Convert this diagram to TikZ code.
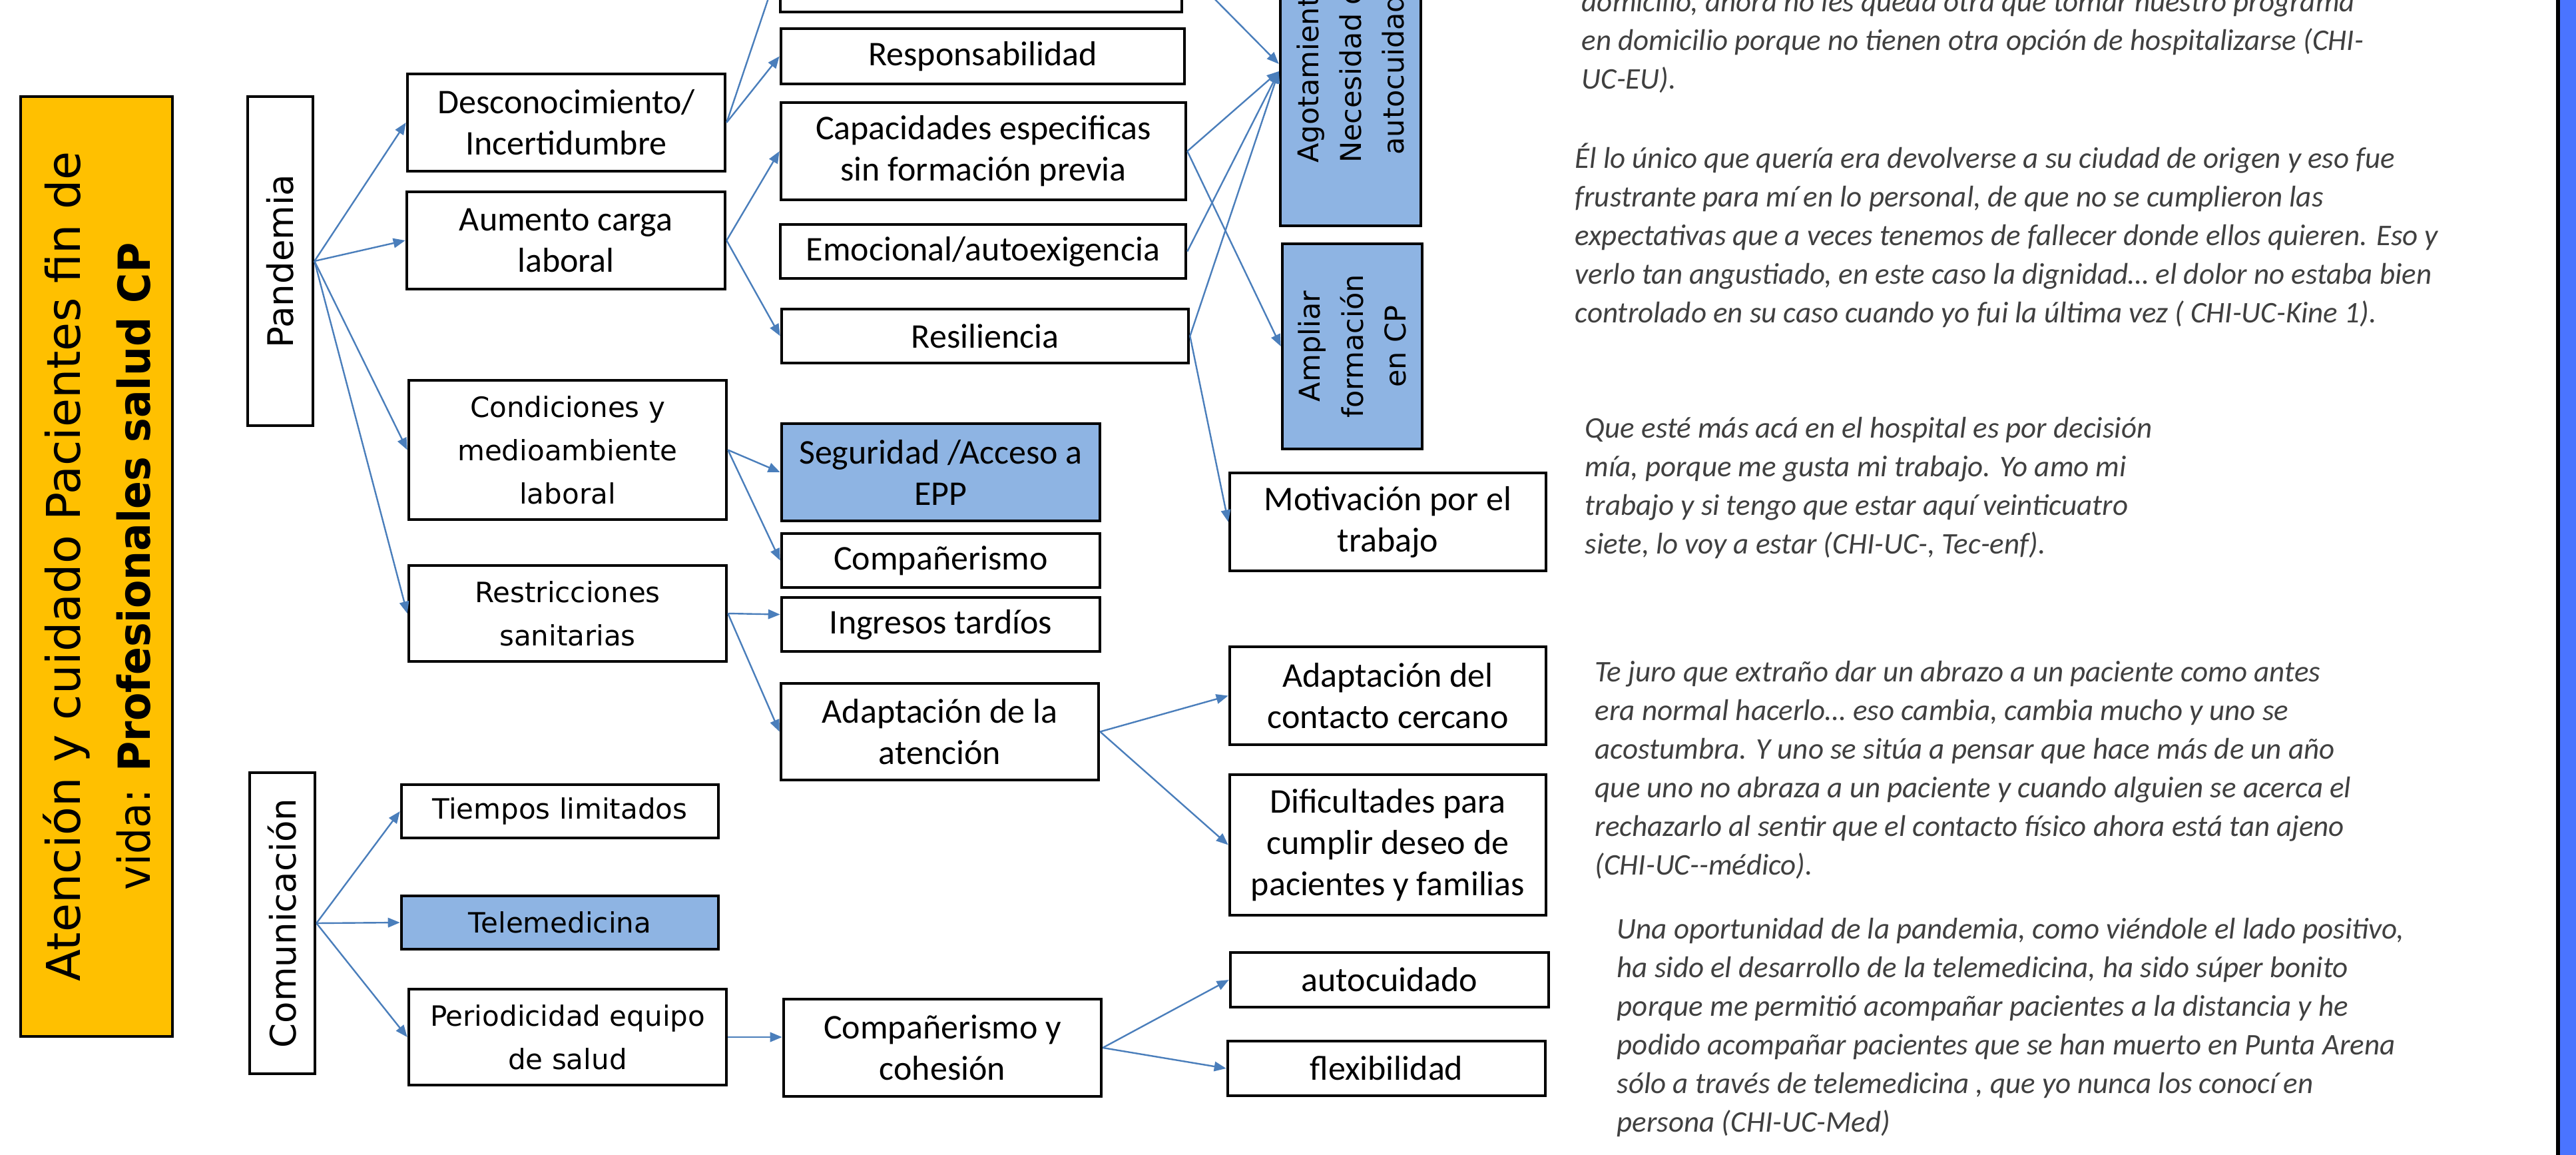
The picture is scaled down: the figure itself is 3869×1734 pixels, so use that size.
\documentclass[tikz,border=0pt]{standalone}
\usepackage{fontspec}
\setmainfont{Carlito}
\newfontfamily\verf{DejaVu Sans}
\usetikzlibrary{arrows.meta,calc}
\definecolor{titleorange}{HTML}{FFC000}
\definecolor{boxblue}{HTML}{8EB4E3}
\definecolor{arrowblue}{HTML}{4A7EBB}
\definecolor{quotegray}{HTML}{404040}
\definecolor{edgeblue}{HTML}{4A74FF}
\begin{document}
\begin{tikzpicture}[x=0.25pt,y=-0.25pt,
  bx/.style={draw=black, line width=1.15pt, fill=white, inner sep=0pt, align=center, text=black},
  calb/.style={font=\fontsize{13}{15.5}\selectfont},
  verb/.style={font=\verf\fontsize{10.5}{16.25}\selectfont},
  filled/.style={fill=boxblue},
  conn/.style={draw=arrowblue, line width=0.6pt, -{Triangle[length=4.5pt,width=3.6pt]}},
  quote/.style={anchor=north west, inner sep=0pt, align=left, text=quotegray, font=\itshape\fontsize{11.25}{14.5}\selectfont},
  rot/.style={rotate=90, inner sep=0pt, align=center, text=black},
]
\useasboundingbox (0,0) rectangle (3869,1734);
\clip (0,0) rectangle (3869,1734);
\fill[white] (0,0) rectangle (3869,1734);

% right edge band
\fill[black] (3839,0) rectangle (3845,1734);
\fill[edgeblue] (3845,0) rectangle (3869,1734);

% title
\node[bx, fill=titleorange, minimum width=57pt, minimum height=352.75pt] (title) at (145,850.5) {};
\node[rot, font=\verf\fontsize{17.5}{26.25}\selectfont] (titletext) at (title.center) {Atención y cuidado Pacientes fin de\\\scalebox{0.93}[1]{\fontsize{16.6}{26.25}\selectfont vida: \textbf{Profesionales salud CP}}};

% category boxes
\node[bx, minimum width=24.5pt, minimum height=123.5pt] (pand) at (421,392) {};
\node[rot, font=\verf\fontsize{13.25}{16}\selectfont] (pandtext) at (pand.center) {Pandemia};
\node[bx, minimum width=24.5pt, minimum height=113pt] (comu) at (424,1386) {};
\node[rot, font=\verf\fontsize{13.25}{16}\selectfont] (comutext) at (comu.center) {Comunicación};

% level 2
\node[bx, calb, minimum width=119.25pt, minimum height=36.5pt] (desc) at (850.5,184) {Desconocimiento/\\Incertidumbre};
\node[bx, calb, minimum width=119.5pt, minimum height=36.5pt] (aum) at (850,361) {Aumento carga\\laboral};
\node[bx, verb, minimum width=119.25pt, minimum height=52.25pt] (cond) at (852.5,675.5) {Condiciones y\\medioambiente\\laboral};
\node[bx, verb, minimum width=119.25pt, minimum height=36pt] (restr) at (852.5,921) {Restricciones\\sanitarias};
\node[bx, verb, minimum width=119pt, minimum height=20pt] (tiem) at (841,1218) {Tiempos limitados};
\node[bx, verb, filled, minimum width=119pt, minimum height=20pt] (tele) at (841,1385) {Telemedicina};
\node[bx, verb, minimum width=119.25pt, minimum height=36pt] (peri) at (852.5,1557) {Periodicidad equipo\\de salud};

% level 3
\node[bx, calb, minimum width=150.75pt, minimum height=33.5pt] (topb) at (1473.5,-49) {};
\node[bx, calb, minimum width=151.5pt, minimum height=20.75pt] (resp) at (1476,84.5) {Responsabilidad};
\node[bx, calb, minimum width=152pt, minimum height=36.5pt] (capa) at (1477,227) {Capacidades especificas\\sin formación previa};
\node[bx, calb, minimum width=152.25pt, minimum height=20.25pt] (emoc) at (1476.5,377.5) {Emocional/autoexigencia};
\node[bx, calb, minimum width=152.75pt, minimum height=20.25pt] (resi) at (1479.5,504.5) {Resiliencia};
\node[bx, calb, filled, minimum width=119.5pt, minimum height=36.5pt] (segu) at (1413,709) {Seguridad /Acceso a\\EPP};
\node[bx, calb, minimum width=119.5pt, minimum height=20.25pt] (comp) at (1413,841.5) {Compañerismo};
\node[bx, calb, minimum width=119.5pt, minimum height=20.25pt] (ingr) at (1413,937.5) {Ingresos tardíos};
\node[bx, calb, minimum width=119.25pt, minimum height=36.25pt] (adap) at (1411.5,1098.5) {Adaptación de la\\atención};
\node[bx, calb, minimum width=119.25pt, minimum height=36.5pt] (cohe) at (1415.5,1573) {Compañerismo y\\cohesión};

% level 4
\node[bx, filled, minimum width=52.75pt, minimum height=120pt] (agot) at (2028.5,99) {};
\node[rot, font=\verf\fontsize{10.75}{16.1}\selectfont] (agottext) at (agot.center) {Agotamiento/\\Necesidad de\\autocuidado};
\node[bx, filled, minimum width=52.5pt, minimum height=77pt] (ampl) at (2031,520) {};
\node[rot, font=\verf\fontsize{10.75}{16.1}\selectfont] (ampltext) at (ampl.center) {Ampliar\\formación\\en CP};
\node[bx, calb, minimum width=118.75pt, minimum height=36.75pt] (moti) at (2084.5,783.5) {Motivación por el\\trabajo};
\node[bx, calb, minimum width=118.75pt, minimum height=36.75pt] (cont) at (2084.5,1044.5) {Adaptación del\\contacto cercano};
\node[bx, calb, minimum width=118.75pt, minimum height=52.75pt] (difi) at (2084.5,1268.5) {Dificultades para\\cumplir deseo de\\pacientes y familias};
\node[bx, calb, minimum width=119.5pt, minimum height=20.5pt] (auto) at (2087,1471) {autocuidado};
\node[bx, calb, minimum width=119.25pt, minimum height=20.5pt] (flex) at (2082.5,1604) {flexibilidad};

% entry points
\coordinate (agA) at ($(agot.west)+(0,-3)$);
\coordinate (agB) at ($(agot.west)+(0,8)$);
\coordinate (ingrin) at ($(ingr.west)+(0,-15)$);

% connectors
\draw[conn] (pand.east) -- (desc.west);
\draw[conn] (pand.east) -- (aum.west);
\draw[conn] (pand.east) -- (cond.west);
\draw[conn] (pand.east) -- (restr.west);
\draw[conn] (desc.east) -- (topb.west);
\draw[conn] (desc.east) -- (resp.west);
\draw[conn] (aum.east) -- (capa.west);
\draw[conn] (aum.east) -- (resi.west);
\draw[conn] (topb.east) -- (agA);
\draw[conn] (capa.east) -- (agB);
\draw[conn] (capa.east) -- (ampl.west);
\draw[conn] (emoc.east) -- (agB);
\draw[conn] (resi.east) -- (agB);
\draw[conn] (resi.east) -- (moti.west);
\draw[conn] (cond.east) -- (segu.west);
\draw[conn] (cond.east) -- (comp.west);
\draw[conn] (restr.east) -- (ingrin);
\draw[conn] (restr.east) -- (adap.west);
\draw[conn] (adap.east) -- (cont.west);
\draw[conn] (adap.east) -- (difi.west);
\draw[conn] (comu.east) -- (tiem.west);
\draw[conn] (comu.east) -- (tele.west);
\draw[conn] (comu.east) -- (peri.west);
\draw[conn] (peri.east) -- (peri.east -| cohe.west);
\draw[conn] (cohe.east) -- (auto.west);
\draw[conn] (cohe.east) -- (flex.west);

% quotes
\node[quote] (q1) at (2375,-27) {\rule{0pt}{11pt}domicilio, ahora no les queda otra que tomar nuestro programa\\en domicilio porque no tienen otra opción de hospitalizarse (CHI-\\UC-EU).};
\node[quote] (q2) at (2365,208) {\rule{0pt}{11pt}Él lo único que quería era devolverse a su ciudad de origen y eso fue\\frustrante para mí en lo personal, de que no se cumplieron las\\expectativas que a veces tenemos de fallecer donde ellos quieren. Eso y\\verlo tan angustiado, en este caso la dignidad… el dolor no estaba bien\\controlado en su caso cuando yo fui la última vez ( CHI-UC-Kine 1).};
\node[quote] (q3) at (2380,613) {\rule{0pt}{11pt}Que esté más acá en el hospital es por decisión\\mía, porque me gusta mi trabajo. Yo amo mi\\trabajo y si tengo que estar aquí veinticuatro\\siete, lo voy a estar (CHI-UC-, Tec-enf).};
\node[quote] (q4) at (2395,979) {\rule{0pt}{11pt}Te juro que extraño dar un abrazo a un paciente como antes\\era normal hacerlo… eso cambia, cambia mucho y uno se\\acostumbra. Y uno se sitúa a pensar que hace más de un año\\que uno no abraza a un paciente y cuando alguien se acerca el\\rechazarlo al sentir que el contacto físico ahora está tan ajeno\\(CHI-UC-{}-médico).};
\node[quote] (q5) at (2428,1365) {\rule{0pt}{11pt}Una oportunidad de la pandemia, como viéndole el lado positivo,\\ha sido el desarrollo de la telemedicina, ha sido súper bonito\\porque me permitió acompañar pacientes a la distancia y he\\podido acompañar pacientes que se han muerto en Punta Arena\\sólo a través de telemedicina , que yo nunca los conocí en\\persona (CHI-UC-Med)};
\end{tikzpicture}
\end{document}
